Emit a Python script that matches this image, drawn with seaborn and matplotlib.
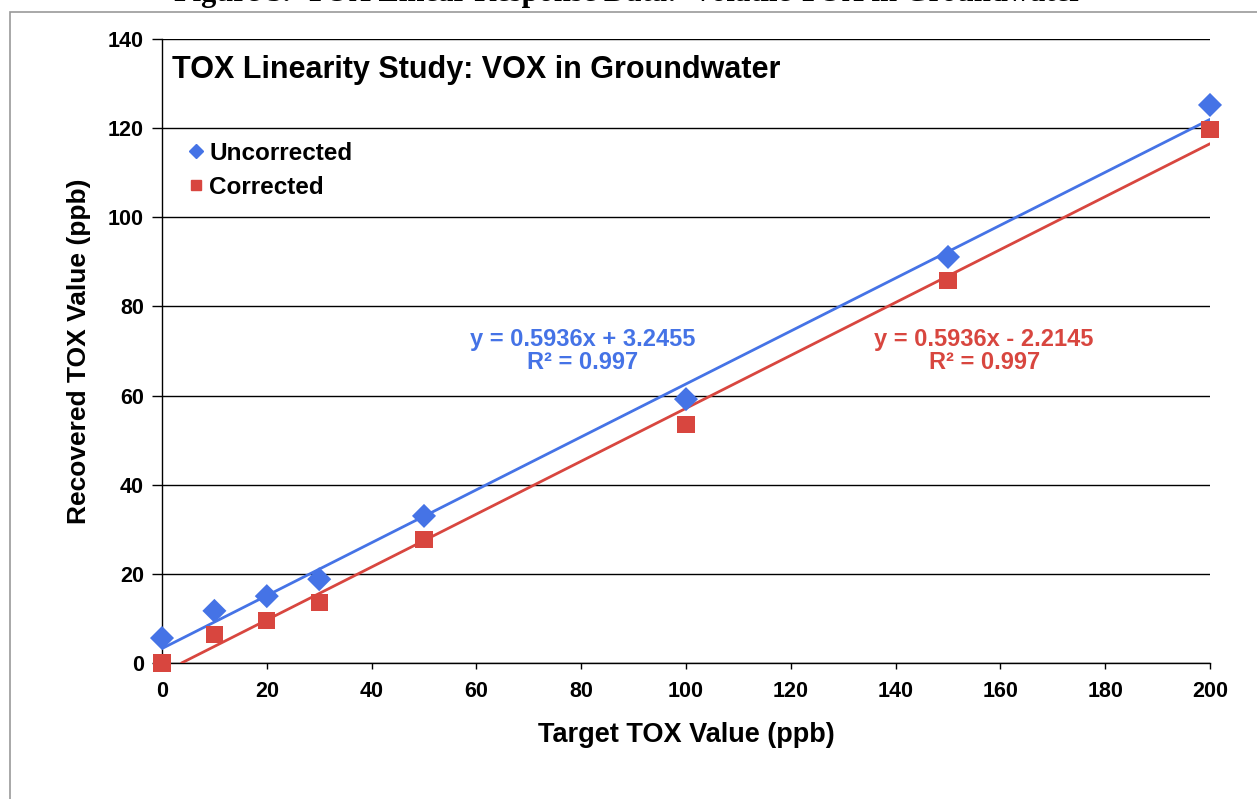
import matplotlib
matplotlib.use("Agg")
import matplotlib.pyplot as plt
import seaborn as sns
import pandas as pd
import numpy as np
from matplotlib.patches import Rectangle
from matplotlib.lines import Line2D

target = [0, 10, 20, 30, 50, 100, 150, 200]
uncorrected = [5.6, 11.7, 15.0, 18.8, 33.0, 59.2, 91.1, 125.2]
corrected = [0.0, 6.3, 9.6, 13.5, 27.6, 53.6, 85.9, 119.8]
slope_unc, icpt_unc = 0.5936, 3.2455
slope_cor, icpt_cor = 0.5936, -2.2145
r2_unc, r2_cor = 0.997, 0.997
x_ticks = [0, 20, 40, 60, 80, 100, 120, 140, 160, 180, 200]
y_ticks = [0, 20, 40, 60, 80, 100, 120, 140]

BLUE = "#4573E6"
RED = "#D8463F"

sns.set_theme(style="white", rc={"text.color": "black", "axes.labelcolor": "black",
                                 "xtick.color": "black", "ytick.color": "black",
                                 "xtick.bottom": True, "ytick.left": True})
plt.rcParams['font.family'] = ['Liberation Sans', 'DejaVu Sans']

fig = plt.figure(figsize=(12.57, 7.99), dpi=100)
ax = fig.add_axes([162/1257, 1 - 663/799, (1210-162)/1257, (663-39)/799])

df = pd.DataFrame({"x": target * 2,
                   "y": uncorrected + corrected,
                   "series": ["Uncorrected"] * len(target) + ["Corrected"] * len(target)})

# trend lines from equations
xl = np.array([0, 200])
ax.plot(xl, slope_unc * xl + icpt_unc, color=BLUE, lw=2, zorder=3)
x0c = -icpt_cor / slope_cor
xlc = np.array([x0c, 200])
ax.plot(xlc, slope_cor * xlc + icpt_cor, color=RED, lw=2, zorder=3)

sns.scatterplot(data=df, x="x", y="y", hue="series", style="series",
                palette={"Uncorrected": BLUE, "Corrected": RED},
                markers={"Uncorrected": "D", "Corrected": "s"},
                s=150, edgecolor="none", ax=ax, zorder=4, clip_on=False, legend=False)

ax.set_xlim(0, 200)
ax.set_ylim(0, 140)
ax.set_xticks(x_ticks)
ax.set_yticks(y_ticks)
ax.yaxis.grid(True, color="black", lw=1)
ax.xaxis.grid(False)
for s in ["top", "right"]:
    ax.spines[s].set_visible(False)
for s in ["left", "bottom"]:
    ax.spines[s].set_color("black")
    ax.spines[s].set_linewidth(1)
ax.tick_params(axis="both", which="major", direction="out", width=1,
               color="black", labelcolor="black", labelsize=15.5,
               bottom=True, left=True)
ax.tick_params(axis="x", length=4, pad=9)
ax.tick_params(axis="y", length=7, pad=6)
for lab in ax.get_xticklabels() + ax.get_yticklabels():
    lab.set_fontweight("bold")
ax.set_xlabel("Target TOX Value (ppb)", fontsize=19.5, fontweight="bold", labelpad=14)
ax.set_ylabel("Recovered TOX Value (ppb)", fontsize=19, fontweight="bold", labelpad=12)

ax.text(0.01, 0.975, "TOX Linearity Study: VOX in Groundwater", transform=ax.transAxes,
        fontsize=22, fontweight="bold", va="top", ha="left")

handles = [Line2D([], [], marker="D", color=BLUE, ls="none", markersize=7),
           Line2D([], [], marker="s", color=RED, ls="none", markersize=7)]
leg = ax.legend(handles, ["Uncorrected", "Corrected"], loc="upper left",
                bbox_to_anchor=(0.0, 0.87), frameon=False, handletextpad=0.05,
                handlelength=1.0, labelspacing=0.45, prop={"size": 17.5, "weight": "bold"})

ax.text(80.3, 70, f"y = {slope_unc}x + {icpt_unc}\nR² = {r2_unc}", color=BLUE,
        fontsize=17, fontweight="bold", ha="center", va="center", linespacing=1.05)
ax.text(156.9, 70, f"y = {slope_cor}x - {abs(icpt_cor)}\nR² = {r2_cor}", color=RED,
        fontsize=17, fontweight="bold", ha="center", va="center", linespacing=1.05)

# outer frame and cut caption
fig.patches.append(Rectangle((10/1257, -0.05), 1.1, 1 - 12/799 + 0.05, transform=fig.transFigure,
                             fill=False, edgecolor="#999999", lw=1.2))
fig.text(0.5, 1 - 8/799, "Figure 3.  TOX Linear Response Data:  Volatile TOX in Groundwater",
         ha="center", va="bottom", fontsize=22, fontweight="bold", family="Liberation Serif")

fig.savefig("out.png", dpi=100)
